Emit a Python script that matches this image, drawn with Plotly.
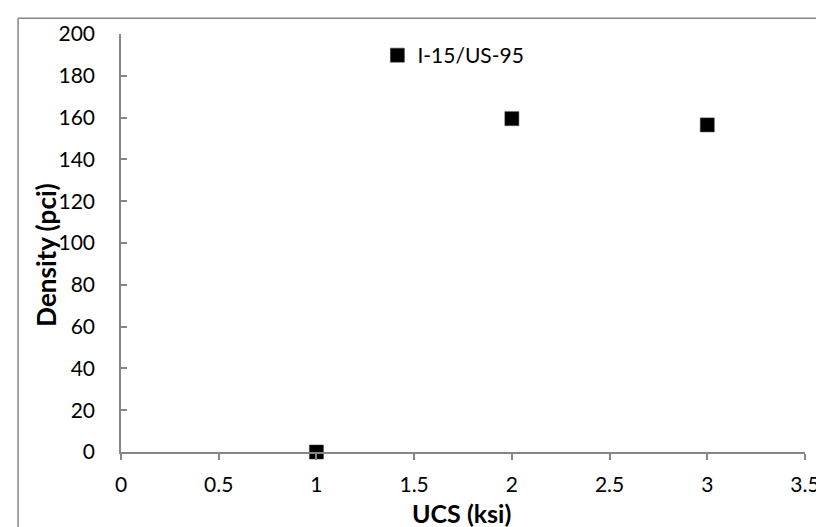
import plotly.graph_objects as go

# Data
ucs_ksi = [1, 2, 3]
density_pci = [0, 159.5, 156.5]
series_name = "I-15/US-95"
x_ticks = [0, 0.5, 1, 1.5, 2, 2.5, 3, 3.5]
x_tick_labels = ["0", "0.5", "1", "1.5", "2", "2.5", "3", "3.5"]
y_ticks = [0, 20, 40, 60, 80, 100, 120, 140, 160, 180, 200]
y_tick_labels = [str(v) for v in y_ticks]

W, H = 824, 527
L, R, T, B = 113, 20, 22, 83
pw, ph = W - L - R, H - T - B

def px_x(p):
    return (p - L) / pw

def px_y(p):
    return (H - B - p) / ph

FONT = "Lato, Carlito, Calibri, sans-serif"
AXIS_COLOR = "#868686"

fig = go.Figure()
fig.add_trace(go.Scatter(
    x=ucs_ksi, y=density_pci, mode="markers", name=series_name,
    marker=dict(symbol="square", size=14, color="black",
                line=dict(width=0.5, color="#333333")),
    cliponaxis=False,
))

fig.update_layout(
    width=W, height=H,
    margin=dict(l=L, r=R, t=T, b=B),
    paper_bgcolor="white", plot_bgcolor="white",
    font=dict(family=FONT, size=21, color="black"),
    showlegend=True,
    legend=dict(x=px_x(372), y=px_y(23), xanchor="left", yanchor="top",
                bgcolor="rgba(0,0,0,0)", font=dict(size=21, family=FONT),
                borderwidth=0),
    xaxis=dict(range=[0, 3.5], tickvals=x_ticks, ticktext=x_tick_labels,
               showgrid=False, zeroline=False, showline=True,
               linecolor=AXIS_COLOR, linewidth=1.5,
               ticks="outside", ticklen=6, tickcolor=AXIS_COLOR, tickwidth=1.5,
               ticklabelstandoff=7,
               tickfont=dict(size=21, family=FONT, color="black")),
    yaxis=dict(range=[0, 200], tickvals=y_ticks, ticktext=y_tick_labels,
               showgrid=False, zeroline=False, showline=True,
               linecolor=AXIS_COLOR, linewidth=1.5,
               ticks="inside", ticklen=6, tickcolor=AXIS_COLOR, tickwidth=1.5,
               ticklabelstandoff=20,
               tickfont=dict(size=21, family=FONT, color="black")),
    annotations=[
        dict(text="<b>UCS (ksi)</b>", xref="paper", yref="paper",
             x=px_x(457), y=px_y(506), xanchor="center", yanchor="middle",
             showarrow=False, font=dict(size=25, family=FONT, color="black")),
        dict(text="<b>Density (pci)</b>", xref="paper", yref="paper",
             x=px_x(37), y=px_y(245), xanchor="center", yanchor="middle",
             textangle=-90, showarrow=False,
             font=dict(size=26, family=FONT, color="black")),
    ],
    shapes=[
        dict(type="line", xref="paper", yref="paper",
             x0=px_x(9), y0=px_y(6), x1=px_x(830), y1=px_y(6),
             line=dict(color=AXIS_COLOR, width=1.5)),
        dict(type="line", xref="paper", yref="paper",
             x0=px_x(9), y0=px_y(6), x1=px_x(9), y1=px_y(535),
             line=dict(color=AXIS_COLOR, width=1.5)),
    ],
)

fig.write_html("out.html")
